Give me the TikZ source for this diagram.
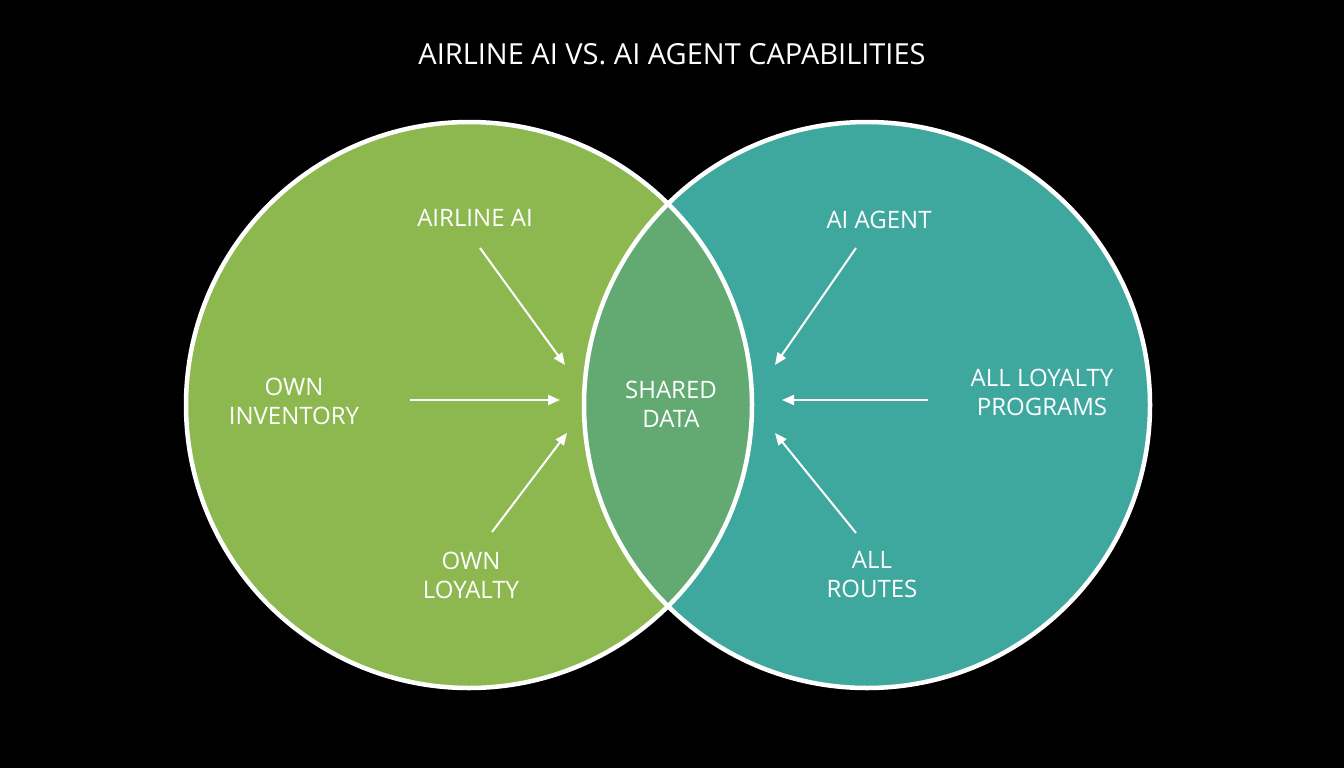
\documentclass[tikz,border=0pt]{standalone}
\usepackage{fontspec}
\setmainfont{Open Sans}
\usetikzlibrary{arrows.meta}
\definecolor{lg}{HTML}{8DB84F}
\definecolor{rt}{HTML}{3FA89E}
\definecolor{mid}{HTML}{62AA72}
\begin{document}
\begin{tikzpicture}[x=1pt,y=-1pt,
  lbl/.style={text=white,font=\fontsize{24}{29}\selectfont,align=center},
  arr/.style={white,line width=2pt,-{Triangle[length=12pt,width=10pt]}}]
\fill[black] (0,0) rectangle (1344,768);
\useasboundingbox (0,0) rectangle (1344,768);
\fill[lg] (469,405) circle (283);
\fill[rt] (867,405) circle (283);
\begin{scope}
\clip (469,405) circle (283);
\fill[mid] (867,405) circle (283);
\end{scope}
\draw[white,line width=4.5pt] (469,405) circle (283);
\draw[white,line width=4.5pt] (867,405) circle (283);
\node[text=white,font=\fontsize{29}{34}\selectfont] (title) at (672,54) {AIRLINE AI VS. AI AGENT CAPABILITIES};
\node[lbl] (aai) at (475,218) {AIRLINE AI};
\node[lbl] (oi) at (294,401) {OWN\\INVENTORY};
\node[lbl] (ol) at (471,575) {OWN\\LOYALTY};
\node[lbl] (sd) at (671,404) {SHARED\\DATA};
\node[lbl] (ag) at (879,220) {AI AGENT};
\node[lbl] (alp) at (1042,392) {ALL LOYALTY\\PROGRAMS};
\node[lbl] (ar) at (872,575) {ALL\\ROUTES};
\coordinate (a1s) at (480,248); \coordinate (a1e) at (565,365);
\coordinate (a2s) at (410,400); \coordinate (a2e) at (560,400);
\coordinate (a3s) at (492,532); \coordinate (a3e) at (567,433);
\coordinate (a4s) at (856,248); \coordinate (a4e) at (775,365);
\coordinate (a5s) at (928,400); \coordinate (a5e) at (782,400);
\coordinate (a6s) at (856,533); \coordinate (a6e) at (775,433);
\foreach \i in {1,...,6} \draw[arr] (a\i s) -- (a\i e);
\end{tikzpicture}
\end{document}
